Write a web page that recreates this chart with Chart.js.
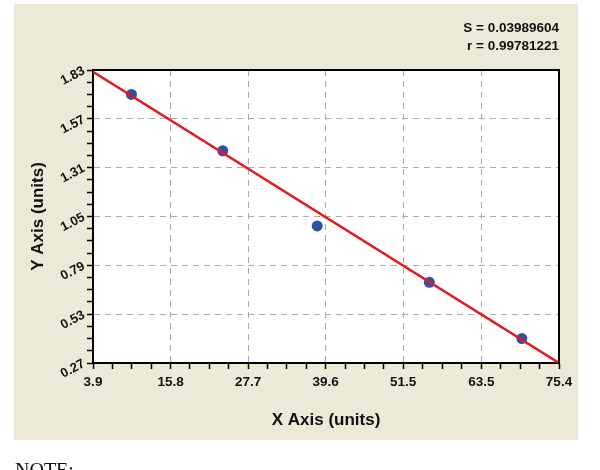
<!DOCTYPE html>
<html>
<head>
<meta charset="utf-8">
<script src="https://cdn.jsdelivr.net/npm/chart.js@4.4.1/dist/chart.umd.min.js"></script>
<style>
  html, body { margin: 0; padding: 0; background: #fff; }
  #wrap { position: relative; width: 600px; height: 470px; overflow: hidden; }
  #note { position: absolute; left: 15px; top: 460px; font: 20px "Liberation Serif", "Times New Roman", serif; line-height: 1; color: #111; }
</style>
</head>
<body>
<div id="wrap">
  <canvas id="grafico" width="600" height="470"></canvas>
  <div id="note">NOTE:</div>
</div>
<script>
// pontos medidos
const xValores = [9.8, 23.8, 38.3, 55.5, 69.7];
const yValores = [1.70, 1.40, 1.00, 0.70, 0.40];

// reta ajustada (extremos)
const xReta = [3.9, 75.4];
const yReta = [1.82, 0.27];

const xTicks = [3.9, 15.8, 27.7, 39.6, 51.5, 63.5, 75.4];
const xTickLabels = ['3.9', '15.8', '27.7', '39.6', '51.5', '63.5', '75.4'];
const yTicks = [0.27, 0.53, 0.79, 1.05, 1.31, 1.57, 1.83];
const yTickLabels = ['0.27', '0.53', '0.79', '1.05', '1.31', '1.57', '1.83'];

const estatisticas = ['S = 0.03989604', 'r = 0.99781221'];

// marcas principais + 3 menores entre elas
function comMenores(maiores, rotulos) {
  const lista = [];
  for (let i = 0; i < maiores.length; i++) {
    lista.push({ value: maiores[i], rotulo: rotulos[i] });
    if (i < maiores.length - 1) {
      const passo = (maiores[i + 1] - maiores[i]) / 4;
      for (let k = 1; k < 4; k++) lista.push({ value: maiores[i] + passo * k, rotulo: '' });
    }
  }
  return lista;
}

function corGrade(ctx, maiores) {
  const t = ctx.tick;
  if (!t || !t.rotulo) return 'rgba(0,0,0,0)';
  if (t.value === maiores[0] || t.value === maiores[maiores.length - 1]) return 'rgba(0,0,0,0)';
  return '#ababab';
}

const fundo = {
  id: 'fundo',
  beforeDraw(chart) {
    const { ctx, chartArea: a } = chart;
    ctx.save();
    ctx.fillStyle = '#ece9d8';
    ctx.fillRect(14, 4, 564, 436);
    ctx.fillStyle = '#fff';
    ctx.fillRect(a.left, a.top, a.right - a.left, a.bottom - a.top);
    ctx.restore();
  },
  afterDraw(chart) {
    const { ctx, chartArea: a } = chart;
    ctx.save();
    ctx.strokeStyle = '#000';
    ctx.lineWidth = 2;
    ctx.beginPath();
    ctx.moveTo(a.left - 1, a.top);
    ctx.lineTo(a.right, a.top);
    ctx.lineTo(a.right, a.bottom + 1);
    ctx.stroke();
    ctx.restore();
  }
};

const ctx = document.getElementById('grafico').getContext('2d');

new Chart(ctx, {
  type: 'scatter',
  data: {
    datasets: [
      {
        type: 'line',
        data: xReta.map((x, i) => ({ x: x, y: yReta[i] })),
        borderColor: '#e41b1d',
        borderWidth: 2.5,
        pointRadius: 0,
        order: 0
      },
      {
        type: 'scatter',
        data: xValores.map((x, i) => ({ x: x, y: yValores[i] })),
        backgroundColor: '#2f4fa8',
        borderWidth: 0,
        pointRadius: 5.5,
        order: 1
      }
    ]
  },
  options: {
    responsive: false,
    animation: false,
    layout: { padding: { left: 0, right: 41, top: 0, bottom: 0 } },
    plugins: {
      legend: { display: false },
      tooltip: { enabled: false },
      title: {
        display: true,
        text: estatisticas,
        align: 'end',
        color: '#111',
        font: { family: 'Liberation Sans, Arial, sans-serif', size: 13.5, weight: 'bold', lineHeight: '18px' },
        padding: { top: 19, bottom: 15 }
      }
    },
    scales: {
      x: {
        type: 'linear',
        min: xTicks[0],
        max: xTicks[xTicks.length - 1],
        afterBuildTicks: s => { s.ticks = comMenores(xTicks, xTickLabels); },
        afterFit: s => { s.height = 107; s.paddingLeft = 0; s.paddingRight = 0; },
        grid: {
          color: c => corGrade(c, xTicks),
          lineWidth: 1,
          tickLength: 6,
          tickColor: '#000',
          tickWidth: 1.5
        },
        border: { display: true, color: '#000', width: 2, dash: [6, 5] },
        ticks: {
          autoSkip: false,
          maxRotation: 0,
          padding: 5,
          color: '#111',
          font: { family: 'Liberation Sans, Arial, sans-serif', size: 13.5, weight: 'bold' },
          callback: (v, i, ticks) => ticks[i].rotulo
        },
        title: {
          display: true,
          text: 'X Axis (units)',
          color: '#111',
          font: { family: 'Liberation Sans, Arial, sans-serif', size: 17, weight: 'bold' },
          padding: { top: 0, bottom: 39 }
        }
      },
      y: {
        type: 'linear',
        min: yTicks[0],
        max: yTicks[yTicks.length - 1],
        afterBuildTicks: s => { s.ticks = comMenores(yTicks, yTickLabels); },
        afterFit: s => { s.width = 93; s.paddingTop = 0; s.paddingBottom = 0; },
        grid: {
          color: c => corGrade(c, yTicks),
          lineWidth: 1,
          tickLength: 6,
          tickColor: '#000',
          tickWidth: 1.5
        },
        border: { display: true, color: '#000', width: 2, dash: [6, 5] },
        ticks: {
          autoSkip: false,
          minRotation: 28,
          maxRotation: 28,
          padding: 3,
          color: '#111',
          font: { family: 'Liberation Sans, Arial, sans-serif', size: 13, weight: 'bold' },
          callback: (v, i, ticks) => ticks[i].rotulo
        },
        title: {
          display: true,
          text: 'Y Axis (units)',
          color: '#111',
          font: { family: 'Liberation Sans, Arial, sans-serif', size: 17, weight: 'bold' },
          padding: { top: 28, bottom: 0 }
        }
      }
    }
  },
  plugins: [fundo]
});
</script>
</body>
</html>
